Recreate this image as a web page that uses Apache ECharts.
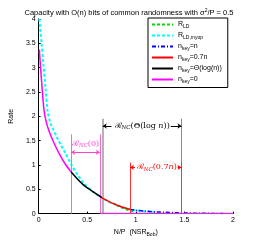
<!DOCTYPE html>
<html><head><meta charset="utf-8">
<script src="https://cdn.jsdelivr.net/npm/echarts@6/dist/echarts.min.js"></script>
<style>html,body{margin:0;padding:0;background:#fff}#c{width:258px;height:242px}</style>
</head><body><div id="c"></div>
<script>
// ---- data ----
const seriesNames = ['R_LD', 'R_LD,myop', 'n_key=n', 'n_key=0.7n', 'n_key=Θ(log(n))', 'n_key=0'];

const xLD   = [0.8, 0.85, 0.9, 0.95, 0.97];
const yLD   = [0.17, 0.125, 0.085, 0.05, 0.04];

const xMyop = [0.007, 0.03, 0.05, 0.07, 0.093, 0.12, 0.15, 0.2, 0.267, 0.333, 0.4, 0.467, 0.55, 0.65, 0.75, 0.85, 0.94, 1.0, 1.1, 1.2];
const yMyop = [4.0, 3.5, 3.05, 2.6, 2.1, 1.87, 1.73, 1.52, 1.27, 1.02, 0.8, 0.62, 0.46, 0.33, 0.22, 0.14, 0.09, 0.07, 0.045, 0.03];

const xN    = [0.94, 1.0, 1.1, 1.2, 1.3, 1.4, 1.5, 1.6, 1.7, 1.8, 1.9];
const yN    = [0.085, 0.068, 0.05, 0.036, 0.026, 0.019, 0.013, 0.009, 0.006, 0.004, 0.002];

const x07   = [0.65, 0.7, 0.75, 0.8, 0.85, 0.9, 0.94];
const y07   = [0.33, 0.27, 0.22, 0.18, 0.14, 0.11, 0.085];

const xLog  = [0.333, 0.4, 0.467, 0.567, 0.65];
const yLog  = [0.86, 0.71, 0.58, 0.44, 0.33];

const xZero = [0.007, 0.02, 0.037, 0.057, 0.08, 0.1, 0.13, 0.17, 0.22, 0.27, 0.333];
const yZero = [3.37, 3.0, 2.55, 2.1, 1.87, 1.74, 1.58, 1.4, 1.2, 1.03, 0.86];
const xZeroTail = [0.633, 2.0];
const yZeroTail = [0, 0];

// annotation ranges
const rangeNC0   = [0.333, 0.63];   const topNC0 = 1.63;  const arrowNC0 = 1.26; const labelNC0 = 1.43;
const rangeLog   = [0.66, 1.47];    const topLog = 1.95;  const arrowLog = 1.8;
const rangeNC07  = [0.94, 1.47];    const topNC07 = 1.05; const arrowNC07 = 0.95;

const pairs = (xs, ys) => xs.map((x, i) => [x, ys[i]]);

const F = '"Liberation Sans", Arial, sans-serif';
const S = '"DejaVu Serif", serif';

const legendRich = {
  m: {fontSize: 7, fontFamily: F, color: '#000'},
  s: {fontSize: 5, fontFamily: F, color: '#000', padding: [5, 0, 0, 0]}
};
const legendText = {
  'R_LD': '{m|R}{s|LD}',
  'R_LD,myop': '{m|R}{s|LD,myop}',
  'n_key=n': '{m|n}{s|key}{m|=n}',
  'n_key=0.7n': '{m|n}{s|key}{m|=0.7n}',
  'n_key=Θ(log(n))': '{m|n}{s|key}{m|=Θ(log(n))}',
  'n_key=0': '{m|n}{s|key}{m|=0}'
};

const annRich = (color) => ({
  c: {fontSize: 8, fontFamily: S, color: color},
  r: {fontSize: 8, fontFamily: S, color: color, fontStyle: 'italic'},
  s: {fontSize: 5.5, fontFamily: S, color: color, fontStyle: 'italic', padding: [4, 0, 0, 0]},
  p: {fontSize: 8, fontFamily: S, color: color}
});

const vline = (x, top, color, w) => [
  {coord: [x, 0], symbol: 'none', lineStyle: {color: color, width: w, type: 'solid'}},
  {coord: [x, top], symbol: 'none'}
];
const arrow = (x1, x2, y, color, both) => [
  {coord: [x1, y], symbol: both ? 'arrow' : 'none', lineStyle: {color: color, width: 1, type: 'solid'}},
  {coord: [x2, y], symbol: 'arrow'}
];
const textAt = (x, y, fmt, color) => ({
  coord: [x, y], symbol: 'circle', symbolSize: 0,
  itemStyle: {color: 'rgba(0,0,0,0)'},
  label: {show: true, position: 'inside', formatter: fmt, rich: annRich(color)}
});

const chart = echarts.init(document.getElementById('c'), null, {renderer: 'canvas'});
chart.setOption({
  animation: false,
  backgroundColor: '#fff',
  title: {
    text: '{t|Capacity with O(n) bits of common randomness with σ}{u|2}{t|/P = 0.5}',
    left: 'center', top: 3,
    textStyle: {rich: {
      t: {fontSize: 7.5, fontFamily: F, color: '#000', fontWeight: 'normal'},
      u: {fontSize: 5, fontFamily: F, color: '#000', fontWeight: 'normal', padding: [0, 0, 4, 0]}
    }}
  },
  grid: {left: 33, right: 25, top: 19, bottom: 27},
  legend: {
    orient: 'vertical', left: 148, top: 18,
    data: seriesNames,
    itemWidth: 21, itemHeight: 8, itemGap: 2.5,
    padding: [3, 6, 3, 3],
    borderColor: '#000', borderWidth: 1, backgroundColor: '#fff',
    itemStyle: {opacity: 0},
    formatter: (n) => legendText[n],
    textStyle: {rich: legendRich}
  },
  xAxis: {
    type: 'value', min: 0, max: 2, interval: 0.5,
    name: '{a|N/P  (NSR}{s|Bob}{a|)}', nameLocation: 'middle', nameGap: 12,
    nameTextStyle: {rich: {
      a: {fontSize: 7, fontFamily: F, color: '#000'},
      s: {fontSize: 5, fontFamily: F, color: '#000', padding: [5, 0, 0, 0]}
    }},
    axisLine: {lineStyle: {color: '#000', width: 1}},
    axisTick: {inside: true, length: 2, lineStyle: {color: '#000'}},
    axisLabel: {fontSize: 7, fontFamily: F, color: '#000', margin: 3},
    splitLine: {show: false}
  },
  yAxis: {
    type: 'value', min: 0, max: 4, interval: 0.5,
    name: 'Rate', nameLocation: 'middle', nameGap: 18, nameRotate: 90,
    nameTextStyle: {fontSize: 7, fontFamily: F, color: '#000'},
    axisLine: {show: true, lineStyle: {color: '#000', width: 1}},
    axisTick: {show: true, inside: true, length: 2, lineStyle: {color: '#000'}},
    axisLabel: {fontSize: 7, fontFamily: F, color: '#000', margin: 3},
    splitLine: {show: false}
  },
  series: [
    {
      name: '__ann', type: 'line', data: [], z: 1, silent: true,
      markLine: {
        silent: true, animation: false, symbolSize: 4,
        label: {show: false},
        data: [
          vline(rangeLog[0], topLog, '#b4b4b4', 2),
          vline(rangeLog[1], topLog, '#8a8a8a', 1),
          vline(rangeNC0[0], topNC0, '#ff66cc', 1),
          vline(rangeNC0[1], topNC0, '#ff66cc', 1),
          vline(rangeNC07[0], topNC07, '#ff3333', 1),
          vline(rangeNC07[1], topNC07, '#ff3333', 1),
          arrow(rangeNC0[0], rangeNC0[1], arrowNC0, '#ff44cc', true),
          arrow(0.75, rangeLog[0], arrowLog, '#000', false),
          arrow(1.36, rangeLog[1], arrowLog, '#000', false),
          arrow(0.99, rangeNC07[0], arrowNC07, '#ff0000', false),
          arrow(1.43, rangeNC07[1], arrowNC07, '#ff0000', false)
        ]
      },
      markPoint: {
        silent: true, animation: false,
        data: [
          textAt((rangeNC0[0] + rangeNC0[1]) / 2, labelNC0, '{c|ℛ}{s|NC}{p|(0)}', '#ff44cc'),
          textAt(1.065, arrowLog, '{c|ℛ}{s|NC}{p|(Θ(log }{r|n}{p|))}', '#000'),
          textAt(1.215, arrowNC07, '{c|ℛ}{s|NC}{p|(0.7}{r|n}{p|)}', '#ff0000')
        ]
      }
    },
    {name: 'R_LD', type: 'line', z: 2, data: pairs(xLD, yLD), showSymbol: false, symbol: 'none', smooth: 0.3,
     lineStyle: {color: '#00dd00', width: 1.5, type: [3, 2]}, itemStyle: {color: '#00dd00'}},
    {name: 'R_LD,myop', type: 'line', z: 3, data: pairs(xMyop, yMyop), showSymbol: false, symbol: 'none', smooth: 0.3,
     lineStyle: {color: '#00ffff', width: 2, type: [3, 2]}, itemStyle: {color: '#00ffff'}},
    {name: 'n_key=n', type: 'line', z: 4, data: pairs(xN, yN), showSymbol: false, symbol: 'none', smooth: 0.3,
     lineStyle: {color: '#0000ff', width: 1.5, type: [4, 2, 1, 2]}, itemStyle: {color: '#0000ff'}},
    {name: 'n_key=0.7n', type: 'line', z: 5, data: pairs(x07, y07), showSymbol: false, symbol: 'none', smooth: 0.3,
     lineStyle: {color: '#ff0000', width: 1.5}, itemStyle: {color: '#ff0000'}},
    {name: 'n_key=Θ(log(n))', type: 'line', z: 6, data: pairs(xLog, yLog), showSymbol: false, symbol: 'none', smooth: 0.3,
     lineStyle: {color: '#000000', width: 1.5}, itemStyle: {color: '#555555'}},
    {name: 'n_key=0', type: 'line', z: 7, data: pairs(xZero, yZero), showSymbol: false, symbol: 'none', smooth: 0.3,
     lineStyle: {color: '#ff00ff', width: 1.5}, itemStyle: {color: '#ff00ff'}},
    {name: 'n_key=0', type: 'line', z: 7, data: pairs(xZeroTail, yZeroTail), showSymbol: false, symbol: 'none',
     lineStyle: {color: '#cc33cc', width: 1.5}, itemStyle: {color: '#ff00ff'}}
  ]
});
</script>
</body></html>
